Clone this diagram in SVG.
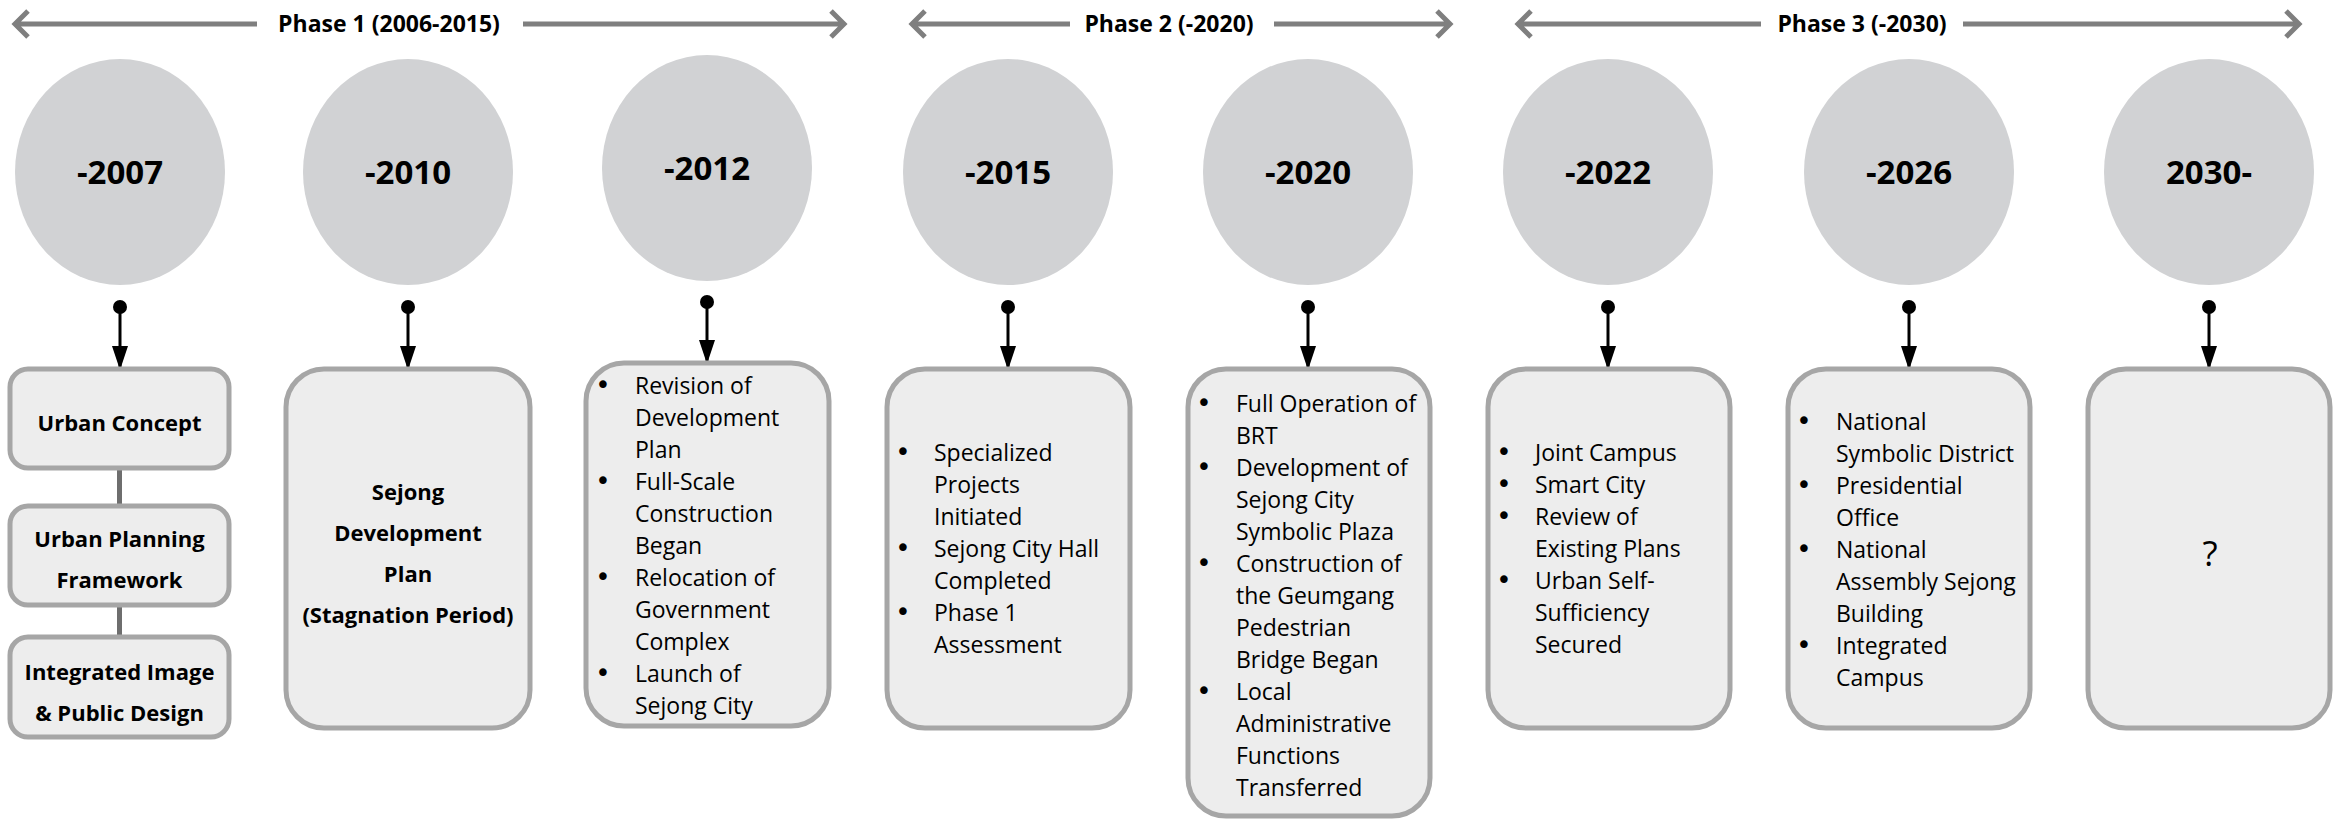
<svg xmlns="http://www.w3.org/2000/svg" width="2335" height="820" viewBox="0 0 2335 820">
<defs>
<marker id="tri" markerUnits="userSpaceOnUse" markerWidth="24" markerHeight="16" viewBox="0 0 24 16" refX="22" refY="8" orient="auto"><path d="M0,0 L24,8 L0,16 z" fill="#000"/></marker>
<marker id="dot" markerUnits="userSpaceOnUse" markerWidth="14" markerHeight="14" viewBox="0 0 14 14" refX="7" refY="7"><circle cx="7" cy="7" r="7" fill="#000"/></marker>
</defs>
<style>
.yr{font-family:"Open Sans",sans-serif;font-weight:700;font-size:33px;text-anchor:middle;fill:#000}
.lbl{font-family:"Open Sans",sans-serif;font-weight:700;font-size:22px;text-anchor:middle;fill:#000}
.txt{font-family:"Open Sans",sans-serif;font-size:23px;fill:#000}
.bul{font-family:"DejaVu Sans",sans-serif;font-size:26px;text-anchor:middle;fill:#000}
.q{font-family:"Open Sans",sans-serif;font-size:35px;text-anchor:middle;fill:#000}
.ph{font-family:"Open Sans",sans-serif;font-weight:700;font-size:23px;text-anchor:middle;fill:#000}
.circ{fill:#d1d2d4}
.box{fill:#ededed;stroke:#a6a6a6;stroke-width:5}
.conn{stroke:#000;stroke-width:3;fill:none}
.phase{stroke:#7f7f7f;stroke-width:5;fill:none;stroke-linejoin:miter}
.link{stroke:#6e6e6e;stroke-width:5}
</style>
<rect width="2335" height="820" fill="#fff"/>

<g id="phases">
<path class="phase" d="M15,24 H257 M523,24 H844 M28,11 L15,24 L28,37 M831,11 L844,24 L831,37"/>
<text class="ph" x="389" y="32">Phase 1 (2006-2015)</text>
<path class="phase" d="M912,24 H1070 M1274,24 H1450 M925,11 L912,24 L925,37 M1437,11 L1450,24 L1437,37"/>
<text class="ph" x="1169" y="32">Phase 2 (-2020)</text>
<path class="phase" d="M1518,24 H1761 M1963,24 H2299 M1531,11 L1518,24 L1531,37 M2286,11 L2299,24 L2286,37"/>
<text class="ph" x="1862" y="32">Phase 3 (-2030)</text>
</g>

<g id="connectors">
<path class="conn" d="M120,307 V368" marker-start="url(#dot)" marker-end="url(#tri)"/>
<path class="conn" d="M408,307 V368" marker-start="url(#dot)" marker-end="url(#tri)"/>
<path class="conn" d="M707,302 V362" marker-start="url(#dot)" marker-end="url(#tri)"/>
<path class="conn" d="M1008,307 V368" marker-start="url(#dot)" marker-end="url(#tri)"/>
<path class="conn" d="M1308,307 V368" marker-start="url(#dot)" marker-end="url(#tri)"/>
<path class="conn" d="M1608,307 V368" marker-start="url(#dot)" marker-end="url(#tri)"/>
<path class="conn" d="M1909,307 V368" marker-start="url(#dot)" marker-end="url(#tri)"/>
<path class="conn" d="M2209,307 V368" marker-start="url(#dot)" marker-end="url(#tri)"/>
<line class="link" x1="119.5" y1="468" x2="119.5" y2="506"/>
<line class="link" x1="119.5" y1="605" x2="119.5" y2="637"/>
</g>

<g id="y2007"><ellipse class="circ" cx="120" cy="172" rx="105" ry="113"/><text class="yr" x="120" y="184">-2007</text></g>
<g id="y2010"><ellipse class="circ" cx="408" cy="172" rx="105" ry="113"/><text class="yr" x="408" y="184">-2010</text></g>
<g id="y2012"><ellipse class="circ" cx="707" cy="168" rx="105" ry="113"/><text class="yr" x="707" y="180">-2012</text></g>
<g id="y2015"><ellipse class="circ" cx="1008" cy="172" rx="105" ry="113"/><text class="yr" x="1008" y="184">-2015</text></g>
<g id="y2020"><ellipse class="circ" cx="1308" cy="172" rx="105" ry="113"/><text class="yr" x="1308" y="184">-2020</text></g>
<g id="y2022"><ellipse class="circ" cx="1608" cy="172" rx="105" ry="113"/><text class="yr" x="1608" y="184">-2022</text></g>
<g id="y2026"><ellipse class="circ" cx="1909" cy="172" rx="105" ry="113"/><text class="yr" x="1909" y="184">-2026</text></g>
<g id="y2030"><ellipse class="circ" cx="2209" cy="172" rx="105" ry="113"/><text class="yr" x="2209" y="184">2030-</text></g>

<g id="urban-concept"><rect class="box" x="10" y="369" width="219" height="99" rx="18"/><text class="lbl" x="119.5" y="431">Urban Concept</text></g>
<g id="urban-planning"><rect class="box" x="10" y="506" width="219" height="99" rx="18"/><text class="lbl" x="119.5" y="547">Urban Planning</text><text class="lbl" x="119.5" y="588">Framework</text></g>
<g id="integrated-image"><rect class="box" x="10" y="637" width="219" height="100" rx="18"/><text class="lbl" x="119.5" y="680">Integrated Image</text><text class="lbl" x="119.5" y="721">&amp; Public Design</text></g>

<g id="box2010"><rect class="box" x="286" y="369" width="244" height="359" rx="38"/>
<text class="lbl" x="408" y="500">Sejong</text><text class="lbl" x="408" y="541">Development</text><text class="lbl" x="408" y="582">Plan</text><text class="lbl" x="408" y="623">(Stagnation Period)</text></g>

<g id="box2012"><rect class="box" x="586" y="363" width="243" height="363" rx="38"/>
<text class="bul" x="603" y="394">•</text><text class="bul" x="603" y="490">•</text><text class="bul" x="603" y="586">•</text><text class="bul" x="603" y="682">•</text>
<text class="txt" x="635" y="394">Revision of</text><text class="txt" x="635" y="426">Development</text><text class="txt" x="635" y="458">Plan</text>
<text class="txt" x="635" y="490">Full-Scale</text><text class="txt" x="635" y="522">Construction</text><text class="txt" x="635" y="554">Began</text>
<text class="txt" x="635" y="586">Relocation of</text><text class="txt" x="635" y="618">Government</text><text class="txt" x="635" y="650">Complex</text>
<text class="txt" x="635" y="682">Launch of</text><text class="txt" x="635" y="714">Sejong City</text></g>

<g id="box2015"><rect class="box" x="887" y="369" width="243" height="359" rx="38"/>
<text class="bul" x="903" y="461">•</text><text class="bul" x="903" y="557">•</text><text class="bul" x="903" y="621">•</text>
<text class="txt" x="934" y="461">Specialized</text><text class="txt" x="934" y="493">Projects</text><text class="txt" x="934" y="525">Initiated</text>
<text class="txt" x="934" y="557">Sejong City Hall</text><text class="txt" x="934" y="589">Completed</text>
<text class="txt" x="934" y="621">Phase 1</text><text class="txt" x="934" y="653">Assessment</text></g>

<g id="box2020"><rect class="box" x="1188" y="369" width="242" height="447" rx="38"/>
<text class="bul" x="1204" y="412">•</text><text class="bul" x="1204" y="476">•</text><text class="bul" x="1204" y="572">•</text><text class="bul" x="1204" y="700">•</text>
<text class="txt" x="1236" y="412">Full Operation of</text><text class="txt" x="1236" y="444">BRT</text>
<text class="txt" x="1236" y="476">Development of</text><text class="txt" x="1236" y="508">Sejong City</text><text class="txt" x="1236" y="540">Symbolic Plaza</text>
<text class="txt" x="1236" y="572">Construction of</text><text class="txt" x="1236" y="604">the Geumgang</text><text class="txt" x="1236" y="636">Pedestrian</text><text class="txt" x="1236" y="668">Bridge Began</text>
<text class="txt" x="1236" y="700">Local</text><text class="txt" x="1236" y="732">Administrative</text><text class="txt" x="1236" y="764">Functions</text><text class="txt" x="1236" y="796">Transferred</text></g>

<g id="box2022"><rect class="box" x="1488" y="369" width="242" height="359" rx="38"/>
<text class="bul" x="1504" y="461">•</text><text class="bul" x="1504" y="493">•</text><text class="bul" x="1504" y="525">•</text><text class="bul" x="1504" y="589">•</text>
<text class="txt" x="1535" y="461">Joint Campus</text><text class="txt" x="1535" y="493">Smart City</text>
<text class="txt" x="1535" y="525">Review of</text><text class="txt" x="1535" y="557">Existing Plans</text>
<text class="txt" x="1535" y="589">Urban Self-</text><text class="txt" x="1535" y="621">Sufficiency</text><text class="txt" x="1535" y="653">Secured</text></g>

<g id="box2026"><rect class="box" x="1788" y="369" width="242" height="359" rx="38"/>
<text class="bul" x="1804" y="430">•</text><text class="bul" x="1804" y="494">•</text><text class="bul" x="1804" y="558">•</text><text class="bul" x="1804" y="654">•</text>
<text class="txt" x="1836" y="430">National</text><text class="txt" x="1836" y="462">Symbolic District</text>
<text class="txt" x="1836" y="494">Presidential</text><text class="txt" x="1836" y="526">Office</text>
<text class="txt" x="1836" y="558">National</text><text class="txt" x="1836" y="590">Assembly Sejong</text><text class="txt" x="1836" y="622">Building</text>
<text class="txt" x="1836" y="654">Integrated</text><text class="txt" x="1836" y="686">Campus</text></g>

<g id="box2030"><rect class="box" x="2088" y="369" width="242" height="359" rx="38"/>
<text class="q" x="2210" y="566">?</text></g>
</svg>
